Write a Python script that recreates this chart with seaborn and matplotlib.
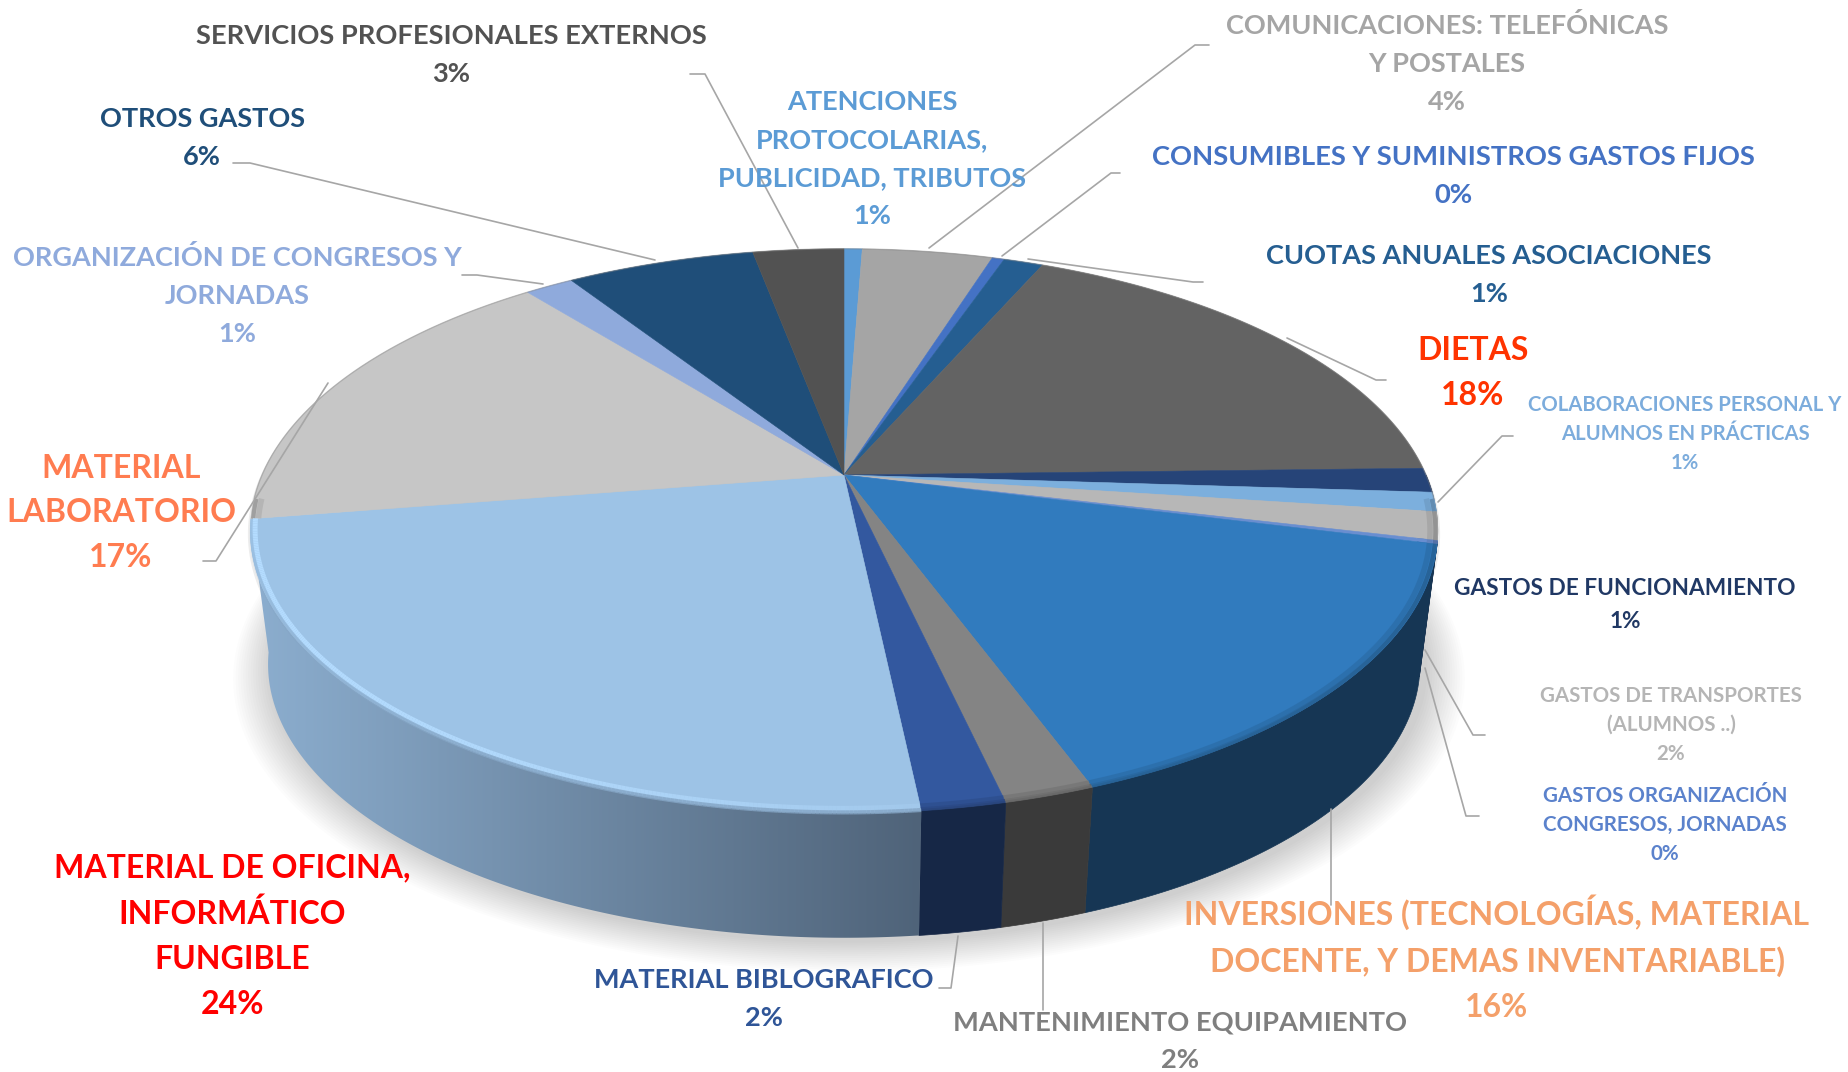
import numpy as np
import matplotlib
matplotlib.use("Agg")
import matplotlib.pyplot as plt
from matplotlib.colors import to_rgb
from matplotlib.patches import Polygon
import seaborn as sns

# Slices, clockwise from 12 o'clock (shares)
categories = ["ATENCIONES", "COMUNICACIONES", "CONSUMIBLES", "CUOTAS", "DIETAS",
              "FUNCIONAMIENTO", "COLABORACIONES", "TRANSPORTES", "ORG_GASTOS",
              "INVERSIONES", "MANTENIMIENTO", "BIBLIOGRAFICO", "OFICINA",
              "LABORATORIO", "ORG_CONGRESOS", "OTROS", "SERVICIOS"]
shares = [0.6, 4.3, 0.4, 1.3, 18.0, 1.4, 1.1, 1.6, 0.2, 15.45, 2.05, 1.9, 24.2, 16.7, 1.6, 6.2, 3.0]
slice_colors = ["#5B9BD5", "#A5A5A5", "#4472C4", "#255E91", "#636363", "#264478", "#7CAFDD",
                "#B7B7B7", "#698ED0", "#317BBE", "#848484", "#33589F", "#9DC3E6", "#C6C6C6",
                "#8FAADC", "#1F4E79", "#525252"]

# Label text, colour, size
labels = ["SERVICIOS PROFESIONALES EXTERNOS\n3%", "OTROS GASTOS\n6%",
          "ORGANIZACIÓN DE CONGRESOS Y\nJORNADAS\n1%", "MATERIAL\nLABORATORIO\n17%",
          "MATERIAL DE OFICINA,\nINFORMÁTICO\nFUNGIBLE\n24%", "MATERIAL BIBLOGRAFICO\n2%",
          "MANTENIMIENTO EQUIPAMIENTO\n2%",
          "INVERSIONES (TECNOLOGÍAS, MATERIAL\nDOCENTE, Y DEMAS INVENTARIABLE)\n16%",
          "GASTOS ORGANIZACIÓN\nCONGRESOS, JORNADAS\n0%", "GASTOS DE TRANSPORTES\n(ALUMNOS ..)\n2%",
          "GASTOS DE FUNCIONAMIENTO\n1%", "COLABORACIONES PERSONAL Y\nALUMNOS EN PRÁCTICAS\n1%",
          "DIETAS\n18%", "CUOTAS ANUALES ASOCIACIONES\n1%",
          "CONSUMIBLES Y SUMINISTROS GASTOS FIJOS\n0%",
          "COMUNICACIONES: TELEFÓNICAS\nY POSTALES\n4%",
          "ATENCIONES\nPROTOCOLARIAS,\nPUBLICIDAD, TRIBUTOS\n1%"]
label_colors = ["#525252", "#1F4E79", "#8FAADC", "#FF7C50", "#FF0000", "#2F5597", "#7F7F7F",
                "#F4A06A", "#5B82CC", "#B5B5B5", "#203864", "#7CACDC", "#FF3300", "#255E91",
                "#4472C4", "#A5A5A5", "#5B9BD5"]
label_x = [451, 202, 237, 121, 232, 764, 1180, 1497, 1665, 1671, 1625, 1685, 1473, 1489, 1453, 1447, 872]
label_y = [55, 138, 296, 513, 936, 999, 1041, 958, 825, 725, 605, 434, 373, 275, 176, 64, 159]
label_size = [19.6, 19.5, 19.5, 23, 23, 19.5, 19.6, 23, 14.8, 14.8, 16.3, 14.6, 23, 19.5, 19.7, 19.5, 19.5]
label_gap = [1.7, 1.7, 1.7, 1.66, 1.66, 1.7, 1.7, 1.66, 1.58, 1.58, 1.66, 1.58, 1.66, 1.7, 1.7, 1.7, 1.7]

# Leader lines
leaders = [[(798, 248), (705, 74), (690, 74)], [(655, 260), (250, 163), (233, 163)],
           [(543, 284), (477, 275), (462, 275)], [(328, 383), (216, 561), (203, 561)],
           [(958, 936), (951, 988), (939, 988)], [(1043, 923), (1043, 1010)],
           [(1331, 809), (1331, 905)], [(1425, 668), (1466, 816), (1479, 816)],
           [(1425, 650), (1473, 735), (1485, 735)], [(1438, 502), (1502, 436), (1513, 436)],
           [(1287, 338), (1376, 380), (1386, 380)], [(1028, 259), (1193, 282), (1203, 282)],
           [(1002, 256), (1111, 173), (1120, 173)], [(929, 248), (1195, 45), (1209, 45)]]

# Pie geometry: a circle seen in perspective, in pixels of the figure
cx, cy = 844, 475
persp_a, persp_b, persp_k = 582, 271, 0.198
depth, base_scale = 135, 0.97


def project(theta, scale=1.0, drop=0.0, shift=0.0):
    t = np.radians(theta)
    u, v = np.sin(t), np.cos(t)
    w = 1 + persp_k * v
    return cx + shift + scale * persp_a * u / w, cy + drop - scale * persp_b * v / w


def arc(t0, t1):
    return np.linspace(t0, t1, max(int(abs(t1 - t0) * 3), 2))


sns.set_theme(style="white")
plt.rcParams['font.family'] = ['Lato', 'DejaVu Sans']
fig, ax = plt.subplots(figsize=(18.48, 10.72), dpi=100)
fig.subplots_adjust(0, 0, 1, 1)
ax.set_axis_off()

edges = np.concatenate([[0], np.cumsum(shares)]) / np.sum(shares) * 360
office = categories.index("OFICINA")

# soft shadow under the base
full = arc(0, 360)
for i in range(1, 17):
    xs, ys = project(full, base_scale + i * 0.0042, depth + 3 + i * 0.5, 5)
    ax.fill(xs, ys, color="black", alpha=0.011, lw=0, zorder=1)
xs, ys = project(full, 1.004, 3)
ax.fill(xs, ys, color="black", alpha=0.07, lw=0, zorder=1)

# side wall
wall_cmap = sns.blend_palette(["#8CAECF", "#4F6379"], as_cmap=True)
for i, col in enumerate(slice_colors):
    if edges[i + 1] <= 90 or edges[i] >= edges[office + 1]:
        continue
    t = arc(max(edges[i], 90), edges[i + 1])
    x0, y0 = project(t)
    x1, y1 = project(t[::-1], base_scale, depth)
    pts = np.column_stack([np.r_[x0, x1], np.r_[y0, y1]])
    if i == office:
        patch = Polygon(pts, closed=True, fc="none", ec="none", zorder=2)
        ax.add_patch(patch)
        im = ax.imshow(np.linspace(1, 0, 256)[None, :], cmap=wall_cmap, aspect="auto", zorder=2,
                       extent=(pts[:, 0].max(), pts[:, 0].min(), pts[:, 1].max(), pts[:, 1].min()))
        im.set_clip_path(patch)
    else:
        wall = tuple(np.array(to_rgb(col)) * 0.44)
        ax.add_patch(Polygon(pts, closed=True, fc=wall, ec=wall, lw=0.5, zorder=2))

# top face
for i, col in enumerate(slice_colors):
    xs, ys = project(arc(edges[i], edges[i + 1]))
    ax.fill(np.r_[xs, project(0, 0)[0]], np.r_[ys, project(0, 0)[1]],
            fc=col, ec=col, lw=0.4, zorder=3)

# rim blur between the top face and the wall
for i, col in enumerate(slice_colors):
    if edges[i + 1] <= 95 or edges[i] >= 265 or i == office:
        continue
    t = arc(max(edges[i], 95), min(edges[i + 1], 265))
    top = np.array(to_rgb(col))
    for sc, f, lw in [(0.996, 0.72, 3), (0.987, 0.88, 4)]:
        xs, ys = project(t, sc)
        ax.plot(xs, ys, color=tuple(top * f), lw=lw, alpha=0.7, solid_capstyle="butt", zorder=4)

# highlight along the rim of the biggest slice, fading towards the front
t = arc(edges[office], edges[office + 1])
t = t[::-1]
for t0, t1 in zip(t[:-1], t[1:]):
    f = (edges[office + 1] - t0) / (edges[office + 1] - edges[office])
    seg = np.array([t0, t1])
    xs, ys = project(seg, 0.992 - 0.006 * f)
    ax.plot(xs, ys, color="#B4DCFF", lw=3.6, alpha=1 - 0.8 * f ** 3, solid_capstyle="butt", zorder=4)
    xs, ys = project(seg, 0.9985)
    ax.plot(xs, ys, color="#86A7C7", lw=3, alpha=min(f * 1.4, 0.8), solid_capstyle="butt", zorder=4)

# faint dark edge round the back of the pie
xs, ys = project(arc(-95, 95))
ax.plot(xs, ys, color="#808080", lw=1.0, alpha=0.4, zorder=4)

for pts in leaders:
    ax.plot(*zip(*pts), color="#A6A6A6", lw=1.2, zorder=5)

for txt, col, x, y, size, gap in zip(labels, label_colors, label_x, label_y, label_size, label_gap):
    ax.text(x, y, txt, color=col, fontsize=size, fontweight="bold", ha="center", va="center",
            multialignment="center", linespacing=gap, zorder=6)

ax.set_xlim(0, 1848)
ax.set_ylim(1072, 0)
fig.savefig("out.png", dpi=100, facecolor="white")
